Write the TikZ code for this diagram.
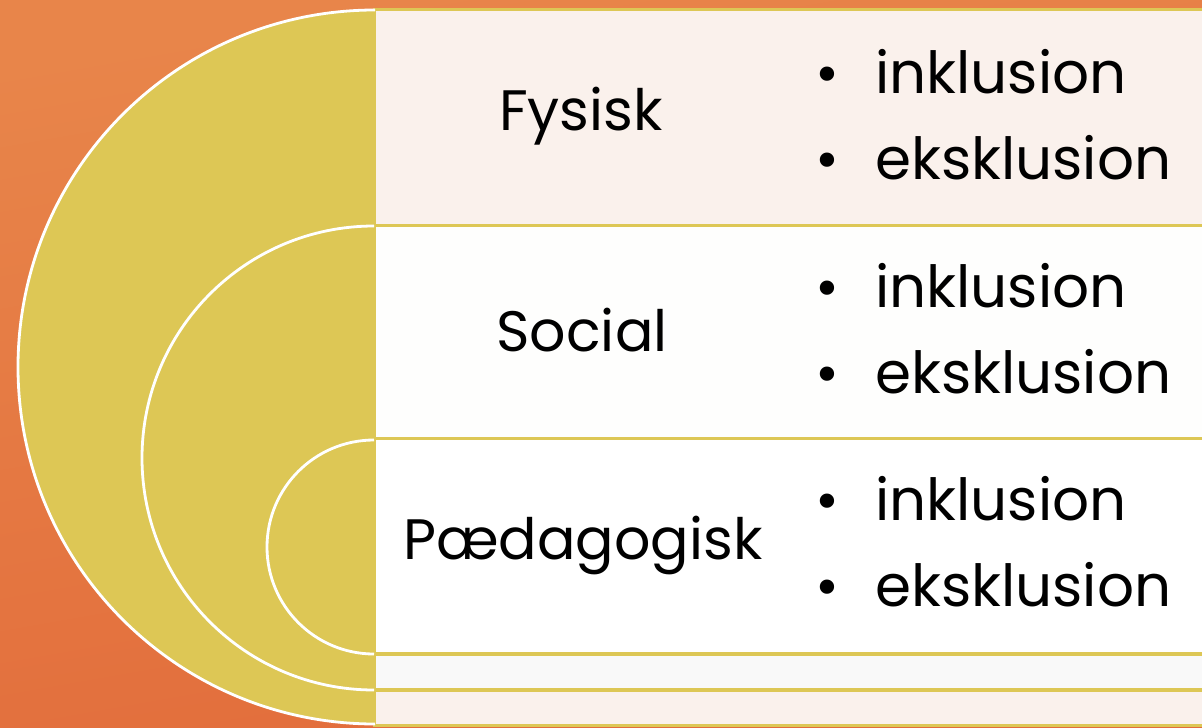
\documentclass[tikz,border=0pt]{standalone}
\usepackage{fontspec}
\setmainfont{Poppins}
\usetikzlibrary{positioning}

\definecolor{bgtop}{HTML}{E8854A}
\definecolor{bgbottom}{HTML}{E26C3B}
\definecolor{arcyellow}{HTML}{DDC755}
\definecolor{rowpink}{HTML}{FAF1EC}
\definecolor{rowwhite}{HTML}{FEFEFD}

\begin{document}
\begin{tikzpicture}[
        x=0.5pt, y=-0.5pt,
        rowbox/.style={fill=#1},
        ring/.style={draw=white, line width=1.4pt},
        label/.style={font=\fontsize{28.5}{34}\selectfont, inner sep=0pt},
        item/.style={font=\fontsize{29}{34}\selectfont, anchor=base west, inner sep=0pt}
    ]
        \useasboundingbox (0,0) rectangle (1202,727);

        % Background
        \shade[top color=bgtop, bottom color=bgbottom, shading angle=10] (0,0) rectangle (1202,727);

        % Rows
        \fill[arcyellow] (373,8) rectangle (1202,727);
        \fill[rowbox=rowpink] (376,11) rectangle (1202,224);
        \fill[rowbox=rowwhite] (376,227) rectangle (1202,437);
        \fill[rowbox=white] (376,440) rectangle (1202,652);
        \fill[rowbox=rowwhite!60!white!98!black] (376,656) rectangle (1202,688);
        \fill[rowbox=rowpink] (376,692) rectangle (1202,724);

        % Half circles
        \fill[arcyellow] (375,10) arc[start angle=90, end angle=270, radius=178.5pt] -- cycle;
        \draw[ring] (375,10) arc[start angle=90, end angle=270, radius=178.5pt];
        \draw[ring] (374,226) arc[start angle=90, end angle=270, radius=116pt];
        \draw[ring] (374,440) arc[start angle=90, end angle=270, radius=53.5pt];

        % Levels
        \node[label] (fysisk) at (581,116) {Fysisk};
        \node[label] (social) at (582,330) {Social};
        \node[label] (paed) at (583,545) {Pædagogisk};

        % Items
        \foreach \n/\y in {1/94, 2/307, 3/520} {
            \node[item] (inkl\n) at (815,\y) {•\hspace{0.62em}inklusion};
            \node[item] (eksk\n) at (815,\y+86) {•\hspace{0.62em}eksklusion};
        }
    \end{tikzpicture}
\end{document}
